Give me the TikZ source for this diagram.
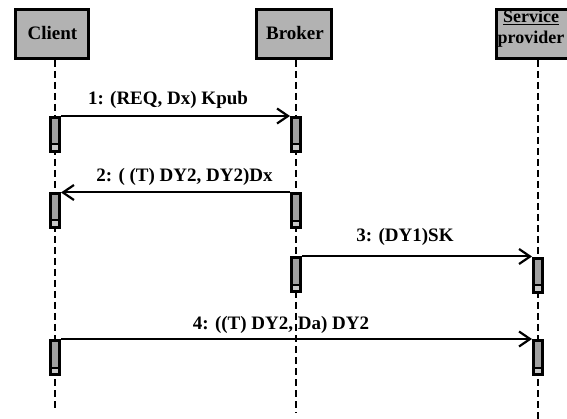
\documentclass[tikz,border=0pt]{standalone}
\usepackage{fontspec}
\setmainfont{Liberation Serif}
\usetikzlibrary{arrows.meta}
\definecolor{boxgray}{RGB}{178,178,178}
\definecolor{bargray}{RGB}{160,160,160}
\definecolor{cellgray}{RGB}{200,200,200}
\begin{document}
\begin{tikzpicture}[x=1pt,y=-1pt,
  actor/.style={draw, line width=3pt, fill=boxgray, minimum height=49pt, inner sep=0pt},
  txt/.style={font=\fontsize{19}{21}\selectfont\bfseries, anchor=base, inner sep=0pt},
  sptxt/.style={txt, font=\fontsize{18}{20}\selectfont\bfseries},
  bar/.style={draw, line width=3pt, fill=bargray, minimum width=9pt, minimum height=34pt, inner sep=0pt,
    path picture={\fill[cellgray] ([yshift=7pt]path picture bounding box.south west) rectangle (path picture bounding box.south east);
      \draw[line width=2pt] ([yshift=7pt]path picture bounding box.south west) -- ([yshift=7pt]path picture bounding box.south east);}},
  lifeline/.style={line width=1.2pt, dash pattern=on 7pt off 4pt},
  msg/.style={line width=2pt, -{Straight Barb[length=11pt,width=15pt,line width=2.2pt]}}]
\useasboundingbox (0,0) rectangle (567,419);
% actor boxes
\node[actor, minimum width=73pt] (client) at (52,34) {};
\node[actor, minimum width=75pt] (broker) at (294,34) {};
\node[actor, minimum width=86pt] (sp) at (539.5,34) {};
\node[txt] (clientT) at (52.5,40) {Client};
\node[txt] (brokerT) at (295,40) {Broker};
\node[sptxt] (spT1) at (531,23) {\underline{Service}};
\node[sptxt] (spT2) at (531,44) {provider};
% message labels
\node[txt] (l1) at (168,105) {1: (REQ, Dx) Kpub};
\node[txt] (l2) at (184.5,182) {2: ( (T) DY2, DY2)Dx};
\node[txt] (l3) at (405,242) {3: (DY1)SK};
\node[txt] (l4) at (281,330) {4: ((T) DY2, Da) DY2};
% lifelines
\coordinate (cTop) at (55,60);
\coordinate (bTop) at (296,60);
\coordinate (sTop) at (538,60);
\coordinate (cEnd) at (55,409);
\coordinate (bEnd) at (296,413);
\coordinate (sEnd) at (538,425);
\draw[lifeline] (cTop) -- (cEnd);
\draw[lifeline] (bTop) -- (bEnd);
\draw[lifeline] (sTop) -- (sEnd);
% activation bars
\node[bar] (cb1) at (55,134.5) {};
\node[bar] (bb1) at (296,134.5) {};
\node[bar] (cb2) at (55,210.5) {};
\node[bar] (bb2) at (296,211) {};
\node[bar] (bb3) at (296,275) {};
\node[bar] (sb1) at (538,275.5) {};
\node[bar] (cb3) at (55,357.5) {};
\node[bar] (sb2) at (538,357.5) {};
% messages
\draw[msg] (cb1.north east) -- (bb1.north west);
\draw[msg] (bb2.north west) -- (bb2.north west -| cb2.east);
\draw[msg] (bb3.north east) -- (bb3.north east -| sb1.west);
\draw[msg] (cb3.north east) -- (cb3.north east -| sb2.west);
\end{tikzpicture}
\end{document}
